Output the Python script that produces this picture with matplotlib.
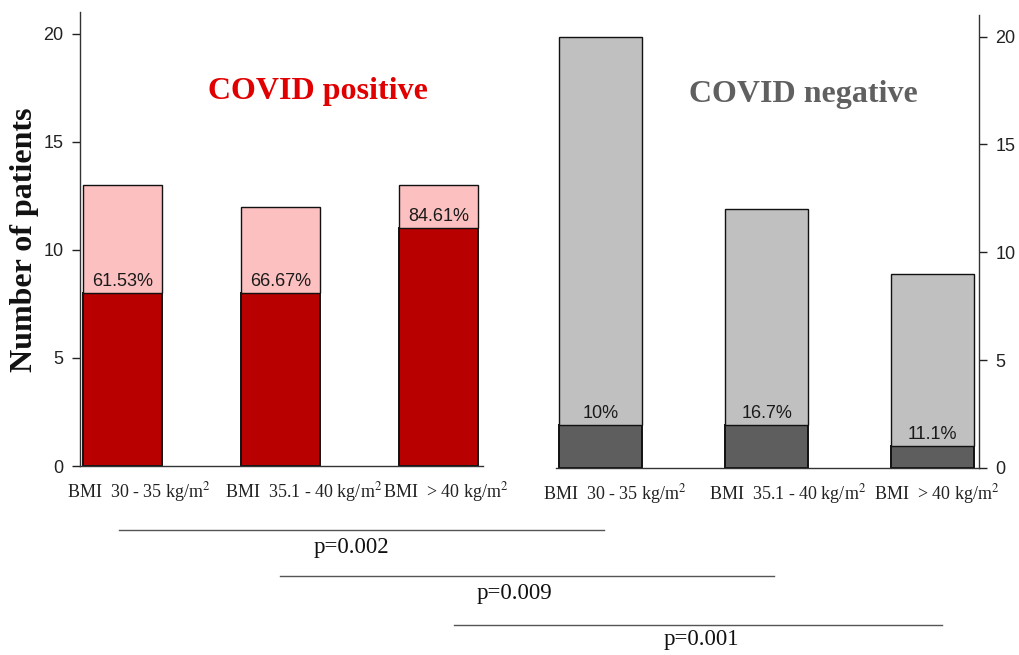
import numpy as np
import matplotlib
matplotlib.use("Agg")
import matplotlib.pyplot as plt

plt.rcParams['mathtext.fontset'] = 'stix'

# patients per BMI class: total and the part with the outcome
categories = ["BMI  30 - 35 kg/m$^2$", "BMI  35.1 - 40 kg/m$^2$", "BMI  > 40 kg/m$^2$"]
pos_total = [13, 12, 13]
pos_event = [8, 8, 11]
pos_labels = ["61.53%", "66.67%", "84.61%"]
neg_total = [20, 12, 9]
neg_event = [2, 2, 1]
neg_labels = ["10%", "16.7%", "11.1%"]

p_values = ["p=0.002", "p=0.009", "p=0.001"]

serif = "Liberation Serif"
sans = "Liberation Sans"

fig = plt.figure(figsize=(10.2, 6.55), dpi=100)
ax1 = fig.add_axes([0.0784, 0.2885, 0.395, 0.693])
ax2 = fig.add_axes([0.545, 0.2855, 0.4147, 0.6916])


def draw_panel(ax, total, event, labels, light, dark, side):
    x = np.arange(len(total))
    rest = np.array(total) - np.array(event)
    ax.bar(x, event, width=0.5, color=dark, edgecolor="#111111", linewidth=1.4)
    ax.bar(x, rest, bottom=event, width=0.5, color=light, edgecolor="#111111", linewidth=1.0)
    for xi, ev, lab in zip(x, event, labels):
        ax.text(xi, ev + 0.15, lab, ha="center", va="bottom", fontsize=13,
                family=sans, color="#1a1a1a")
    ax.set_xlim(-0.27, 2.28)
    ax.set_ylim(0, 21)
    ax.set_yticks([0, 5, 10, 15, 20])
    ax.set_xticks([])
    for s in ["top", "left", "right"]:
        ax.spines[s].set_visible(False)
    ax.spines[side].set_visible(True)
    for s in ax.spines.values():
        s.set_color("#333333")
        s.set_linewidth(1.0)
    if side == "right":
        ax.yaxis.tick_right()
    ax.tick_params(axis="y", direction="out", length=6, width=1, pad=6,
                   labelsize=13, colors="#222222")
    for t in ax.get_yticklabels():
        t.set_family(sans)
    # category names sit under each bar, starting a bit left of it
    for xi, name in zip(x, categories):
        ax.text(xi - 0.35, -0.058, name, transform=ax.get_xaxis_transform(),
                ha="left", va="center", fontsize=13, family=serif, color="#222222")


draw_panel(ax1, pos_total, pos_event, pos_labels, "#fcc0c0", "#b80000", "left")
draw_panel(ax2, neg_total, neg_event, neg_labels, "#c0c0c0", "#5e5e5e", "right")

ax1.text(0.59, 0.825, "COVID positive", transform=ax1.transAxes, ha="center", va="center",
         fontsize=23, fontweight="bold", family=serif, color="#e00000")
ax2.text(0.585, 0.825, "COVID negative", transform=ax2.transAxes, ha="center", va="center",
         fontsize=23, fontweight="bold", family=serif, color="#606060")

fig.text(25 / 1020, 1 - 240 / 655, "Number of patients", rotation=90, ha="center", va="center",
         fontsize=23, fontweight="bold", family=serif, color="#111111")

# comparison brackets below the panels
W, H = 1020, 655
brackets = [((119, 604), 530, 351, 548),
            ((280, 774), 576, 514, 594),
            ((454, 942), 625, 701, 640)]
for (x0, x1), yl, xt, yt in brackets:
    fig.add_artist(plt.Line2D([x0 / W, x1 / W], [1 - yl / H, 1 - yl / H],
                              color="#555555", linewidth=1.0))
for ((x0, x1), yl, xt, yt), p in zip(brackets, p_values):
    fig.text(xt / W, 1 - yt / H, p, ha="center", va="center", fontsize=16.5,
             family=serif, color="#111111")

fig.savefig("out.png", dpi=100)
